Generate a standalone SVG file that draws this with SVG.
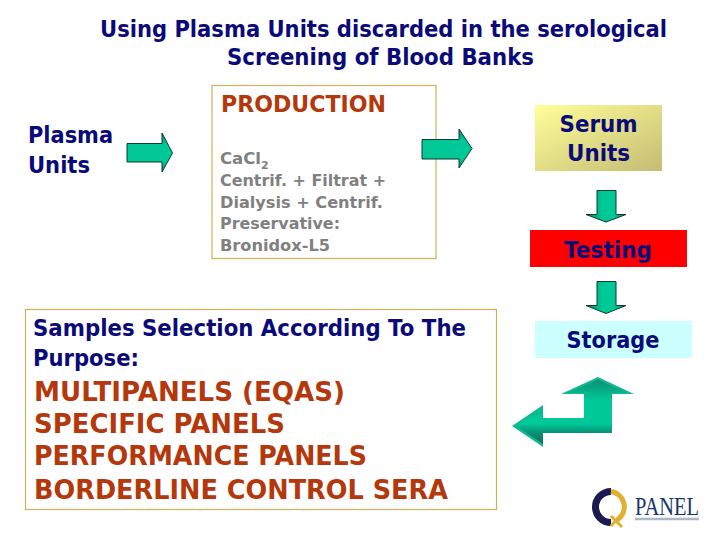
<svg xmlns="http://www.w3.org/2000/svg" width="720" height="540" viewBox="0 0 720 540">
<style>
text{font-family:"DejaVu Sans","Liberation Sans",sans-serif;font-weight:bold}
.title{font-size:23px;fill:#0a0a78}
.navy{fill:#0a0a78}
.big{font-size:23px}
.brown{fill:#b5380c}
.gray{font-size:16.500px;fill:#808080}
.sub{font-size:11px}
.sel{font-size:23px;fill:#0a0a78}
.list{font-size:27px;fill:#b5380c}
.arrow{fill:url(#ag);stroke:#0c3a30;stroke-width:1}
.down{fill:url(#va);stroke:#0c3a30;stroke-width:1}
</style>
<defs>
<linearGradient id="ag" x1="0" y1="0" x2="0" y2="1"><stop offset="0" stop-color="#0a8a6c"/><stop offset=".3" stop-color="#00c896"/><stop offset=".75" stop-color="#00c896"/><stop offset="1" stop-color="#0a8a6c"/></linearGradient>
<linearGradient id="va" x1="0" y1="0" x2="1" y2="0"><stop offset="0" stop-color="#0a8a6c"/><stop offset=".4" stop-color="#00c896"/><stop offset=".7" stop-color="#00c896"/><stop offset="1" stop-color="#0a8a6c"/></linearGradient>
<linearGradient id="serum" x1="0" y1="0" x2="1" y2="1"><stop offset="0" stop-color="#ffff99"/><stop offset="1" stop-color="#c4bc74"/></linearGradient>
<linearGradient id="up" gradientUnits="userSpaceOnUse" x1="0" y1="377" x2="0" y2="419"><stop offset="0" stop-color="#0c8a70"/><stop offset=".55" stop-color="#00c896"/><stop offset="1" stop-color="#00c896"/></linearGradient>
<linearGradient id="left" gradientUnits="userSpaceOnUse" x1="0" y1="405" x2="0" y2="447"><stop offset="0" stop-color="#0fa886"/><stop offset=".3" stop-color="#00c896"/><stop offset=".45" stop-color="#00c896"/><stop offset=".67" stop-color="#0a8f74"/><stop offset="1" stop-color="#0a6a58"/></linearGradient>
</defs>
<g id="title">
<text class="title" x="100" y="37" textLength="567" lengthAdjust="spacingAndGlyphs">Using Plasma Units discarded in the serological</text>
<text class="title" x="227" y="65" textLength="307" lengthAdjust="spacingAndGlyphs">Screening of Blood Banks</text>
</g>
<g id="plasma-units">
<text class="big navy" x="28" y="143" textLength="85" lengthAdjust="spacingAndGlyphs">Plasma</text>
<text class="big navy" x="28" y="173" textLength="62" lengthAdjust="spacingAndGlyphs">Units</text>
</g>
<g id="production">
<rect x="212" y="85.500" width="224" height="173" fill="#fff" stroke="#c8b35a" stroke-width="1.200"/>
<text class="big brown" x="221" y="112" textLength="165" lengthAdjust="spacingAndGlyphs">PRODUCTION</text>
<text class="gray" x="220" y="164">CaCl<tspan class="sub" dy="5">2</tspan></text>
<text class="gray" x="220" y="186" textLength="166" lengthAdjust="spacingAndGlyphs">Centrif. + Filtrat +</text>
<text class="gray" x="220" y="208" textLength="163" lengthAdjust="spacingAndGlyphs">Dialysis + Centrif.</text>
<text class="gray" x="220" y="229" textLength="120" lengthAdjust="spacingAndGlyphs">Preservative:</text>
<text class="gray" x="220" y="251" textLength="110" lengthAdjust="spacingAndGlyphs">Bronidox-L5</text>
</g>
<g id="serum-units">
<rect x="535" y="105" width="127" height="66" fill="url(#serum)"/>
<text class="big navy" x="598.500" y="132" text-anchor="middle" textLength="78" lengthAdjust="spacingAndGlyphs">Serum</text>
<text class="big navy" x="598.500" y="161" text-anchor="middle" textLength="63" lengthAdjust="spacingAndGlyphs">Units</text>
</g>
<g id="testing">
<rect x="530" y="230" width="157" height="37" fill="#ff0000"/>
<text class="big navy" x="608" y="258" text-anchor="middle" textLength="88" lengthAdjust="spacingAndGlyphs">Testing</text>
</g>
<g id="storage">
<rect x="535" y="321" width="157" height="37" fill="#ccffff"/>
<text class="big navy" x="613" y="348" text-anchor="middle" textLength="93" lengthAdjust="spacingAndGlyphs">Storage</text>
</g>
<g id="samples">
<rect x="25.500" y="309.500" width="471" height="200" fill="#fff" stroke="#c8b35a" stroke-width="1.200"/>
<text class="sel" x="33" y="336" textLength="433" lengthAdjust="spacingAndGlyphs">Samples Selection According To The</text>
<text class="sel" x="33" y="366" textLength="106" lengthAdjust="spacingAndGlyphs">Purpose:</text>
<text class="list" x="34" y="401" textLength="311" lengthAdjust="spacingAndGlyphs">MULTIPANELS (EQAS)</text>
<text class="list" x="34" y="433" textLength="251" lengthAdjust="spacingAndGlyphs">SPECIFIC PANELS</text>
<text class="list" x="34" y="465" textLength="333" lengthAdjust="spacingAndGlyphs">PERFORMANCE PANELS</text>
<text class="list" x="34" y="499" textLength="414" lengthAdjust="spacingAndGlyphs">BORDERLINE CONTROL SERA</text>
</g>
<g id="connectors">
<path class="arrow" d="M127 143.500H162V133L172.500 153L162 172V162H127Z"/>
<path class="arrow" d="M422 139.500H459V129L472 148.500L459 168V159H422Z"/>
<path class="down" d="M597 190.500H616V214.500H626L606 222L586 214.500H597Z"/>
<path class="down" d="M597 281.500H616V305.500H626L606 313.500L586 305.500H597Z"/>
<path d="M598 377L634 394H612V433H543V447L512 426L543 405V418H584V394H561Z" fill="#14b896"/>
<path d="M598 379.500L628 393H612V419H584V393H567Z" fill="url(#up)"/>
<path d="M612 418V433H543V444L516 426L543 408V418Z" fill="url(#left)"/>
</g>
<g id="logo">
<path d="M611 491.500A15.500 15.500 0 1 0 611 522.500" fill="none" stroke="#1d1a52" stroke-width="7"/>
<path d="M611 491.500A15.500 15.500 0 0 1 617 520" fill="none" stroke="#e0b030" stroke-width="5"/>
<path d="M611 516L622 527M621 515L611 526" fill="none" stroke="#e0b030" stroke-width="3"/>
<text x="635" y="515" style="font-family:'Liberation Serif',serif;font-weight:normal;font-size:25px;fill:#16386a" textLength="64" lengthAdjust="spacingAndGlyphs">PANEL</text>
<path d="M635 519H699" stroke="#7a8aa0" stroke-width="2.500" opacity=".6"/>
</g>
</svg>
